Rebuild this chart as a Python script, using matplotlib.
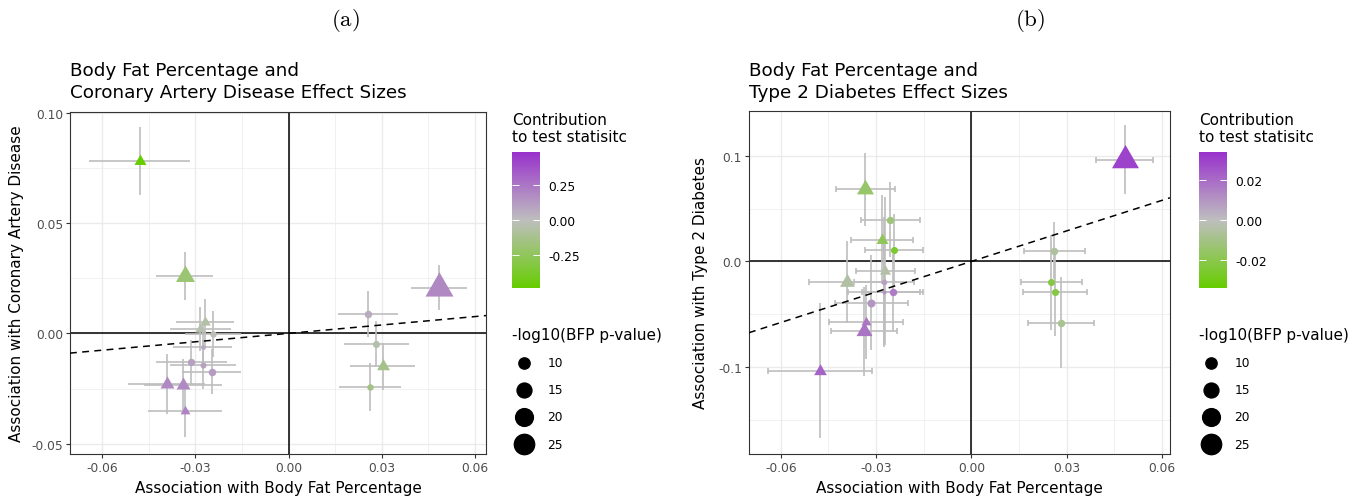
# Body fat percentage effect sizes vs CAD / T2D effect sizes, two panels

import numpy as np
import matplotlib
matplotlib.use('Agg')
import matplotlib.pyplot as plt
from matplotlib.colors import LinearSegmentedColormap, Normalize
from matplotlib.colorbar import ColorbarBase

plt.rcParams['font.family'] = ['DejaVu Sans']
plt.rcParams['mathtext.fontset'] = 'cm'

W, H = 1368, 502

# ---- panel (a): coronary artery disease ----
cad_x = [-0.0480, -0.0335, 0.0484, 0.0257, 0.0282, 0.0303, 0.0262, -0.0270, -0.0284,
         -0.0244, -0.0276, -0.0313, -0.0275, -0.0248, -0.0393, -0.0340, -0.0334]
cad_y = [0.0782, 0.0260, 0.0207, 0.0087, -0.0048, -0.0149, -0.0245, 0.0050, 0.0019,
         -0.0003, -0.0060, -0.0131, -0.0142, -0.0173, -0.0229, -0.0232, -0.0352]
cad_x_err = [0.0163, 0.0093, 0.0091, 0.0097, 0.0105, 0.0104, 0.0101, 0.0093, 0.0097,
             0.0090, 0.0095, 0.0114, 0.0107, 0.0094, 0.0125, 0.0125, 0.0120]
cad_y_err = [0.0156, 0.0109, 0.0102, 0.0105, 0.0106, 0.0107, 0.0109, 0.0105, 0.0100,
             0.0104, 0.0100, 0.0100, 0.0110, 0.0100, 0.0137, 0.0115, 0.0120]
cad_logp = [6.0, 11.8, 23.1, 4.9, 4.6, 6.7, 4.2, 5.2, 5.2, 4.2, 3.4, 4.8, 3.9, 4.9, 7.4, 7.4, 4.8]
cad_shape = ['^', '^', '^', 'o', 'o', '^', 'o', '^', '^', 'o', 'o', 'o', 'o', 'o', '^', '^', '^']
cad_contrib = [-0.479, -0.19, 0.18, 0.06, -0.05, -0.13, -0.14, -0.06, -0.04,
               -0.02, 0.06, 0.10, 0.10, 0.12, 0.18, 0.18, 0.20]
cad_slope = 0.127
cad_xticks = [-0.06, -0.03, 0.0, 0.03, 0.06]
cad_xlabels = ['-0.06', '-0.03', '0.00', '0.03', '0.06']
cad_yticks = [-0.05, 0.0, 0.05, 0.10]
cad_ylabels = ['-0.05', '0.00', '0.05', '0.10']
cad_cticks = [-0.25, 0.0, 0.25]
cad_clabels = ['-0.25', '0.00', '0.25']

# ---- panel (b): type 2 diabetes ----
t2d_x = [0.0483, -0.0334, -0.0255, -0.0282, -0.0244, -0.0271, -0.0391, -0.0275, -0.0275,
         -0.0248, -0.0315, -0.0331, -0.0339, -0.0476, 0.0261, 0.0252, 0.0262, 0.0281]
t2d_y = [0.0965, 0.0685, 0.0394, 0.0206, 0.0104, -0.0090, -0.0195, -0.0195, -0.0294,
         -0.0294, -0.0392, -0.0572, -0.0663, -0.1036, 0.0101, -0.0196, -0.0294, -0.0581]
t2d_x_err = [0.0090, 0.0093, 0.0094, 0.0097, 0.0092, 0.0092, 0.0119, 0.0095, 0.0113,
             0.0095, 0.0114, 0.0117, 0.0104, 0.0163, 0.0095, 0.0095, 0.0101, 0.0104]
t2d_y_err = [0.0325, 0.0345, 0.0355, 0.0420, 0.0350, 0.0700, 0.0387, 0.0620, 0.0500,
             0.0364, 0.0453, 0.0350, 0.0420, 0.0640, 0.0270, 0.0450, 0.0410, 0.0430]
t2d_logp = [21.5, 9.9, 4.8, 6.0, 4.6, 5.4, 8.2, 3.7, 3.0, 4.9, 5.3, 4.8, 9.0, 6.5, 4.9, 4.6, 4.6, 4.9]
t2d_shape = ['^', '^', 'o', '^', 'o', '^', '^', 'o', 'o', 'o', 'o', '^', '^', '^', 'o', 'o', 'o', 'o']
t2d_contrib = [0.030, -0.015, -0.013, -0.018, -0.025, -0.004, -0.005, 0.007, 0.010,
               0.016, 0.010, 0.017, 0.018, 0.022, -0.006, -0.022, -0.022, -0.008]
t2d_slope = 0.966
t2d_xticks = [-0.06, -0.03, 0.0, 0.03, 0.06]
t2d_xlabels = ['-0.06', '-0.03', '0.00', '0.03', '0.06']
t2d_yticks = [-0.1, 0.0, 0.1]
t2d_ylabels = ['-0.1', '0.0', '0.1']
t2d_cticks = [-0.02, 0.0, 0.02]
t2d_clabels = ['-0.02', '0.00', '0.02']

legend_sizes = [10, 15, 20, 25]

cmap = LinearSegmentedColormap.from_list('contrib', ['#66CD00', '#BEBEBE', '#9932CC'])
TRI = [(0, 1), (0.866, -0.5), (-0.866, -0.5)]


def diam_px(v):
    # point diameter in pixels for a -log10 p value (area scale)
    return np.sqrt(20.7 * (np.asarray(v, dtype=float) - 2.2))


def draw_panel(ax, x, y, xe, ye, logp, shape, contrib, clim, slope, xlim, ylim,
               xticks, xlabels, yticks, ylabels, minor_x, minor_y, caps):
    norm = Normalize(-clim, clim)
    ax.set_xlim(xlim)
    ax.set_ylim(ylim)
    ax.set_xticks(xticks, labels=xlabels)
    ax.set_yticks(yticks, labels=ylabels)
    ax.set_xticks(minor_x, minor=True)
    ax.set_yticks(minor_y, minor=True)
    ax.grid(which='major', color='#EBEBEB', lw=1.0)
    ax.grid(which='minor', color='#EBEBEB', lw=0.5)
    ax.set_axisbelow(True)
    ax.tick_params(which='major', length=3, width=0.8, color='#333333',
                   labelsize=8.8, labelcolor='#4D4D4D', pad=2)
    ax.tick_params(which='minor', length=0)
    for sp in ax.spines.values():
        sp.set_color('#333333')
        sp.set_linewidth(0.8)

    ax.axhline(0, color='black', lw=1.1, zorder=2)
    ax.axvline(0, color='black', lw=1.1, zorder=2)

    ax.errorbar(x, y, xerr=xe, fmt='none', ecolor='#BEBEBE', elinewidth=1.2,
                capsize=caps, capthick=1.2, zorder=3)
    ax.errorbar(x, y, yerr=ye, fmt='none', ecolor='#BEBEBE', elinewidth=1.2,
                capsize=0, zorder=3)

    xs = np.array(xlim)
    ax.plot(xs, slope * xs, color='black', lw=1.1, ls=(0, (4.5, 3.5)), zorder=4)

    d = diam_px(logp) * 0.72
    for i in range(len(x)):
        col = cmap(norm(contrib[i]))
        if shape[i] == '^':
            ax.scatter(x[i], y[i], s=(1.555 * d[i]) ** 2, marker=TRI, color=col,
                       linewidths=0, zorder=5)
        else:
            ax.scatter(x[i], y[i], s=d[i] ** 2, marker='o', color=col,
                       linewidths=0, zorder=5)


def fig_rect(l, t, r, b):
    return [l / W, 1 - b / H, (r - l) / W, (b - t) / H]


fig = plt.figure(figsize=(W / 100, H / 100), dpi=100)

ax1 = fig.add_axes(fig_rect(70, 113, 486, 455))
draw_panel(ax1, cad_x, cad_y, cad_x_err, cad_y_err, cad_logp, cad_shape, cad_contrib,
           0.479, cad_slope, (-0.0704, 0.0636), (-0.0547, 0.1004),
           cad_xticks, cad_xlabels, cad_yticks, cad_ylabels,
           [-0.045, -0.015, 0.015, 0.045], [-0.025, 0.025, 0.075], caps=0)

ax2 = fig.add_axes(fig_rect(749, 112, 1170, 455))
draw_panel(ax2, t2d_x, t2d_y, t2d_x_err, t2d_y_err, t2d_logp, t2d_shape, t2d_contrib,
           0.034, t2d_slope, (-0.0700, 0.0625), (-0.1827, 0.1427),
           t2d_xticks, t2d_xlabels, t2d_yticks, t2d_ylabels,
           [-0.045, -0.015, 0.015, 0.045], [-0.15, -0.05, 0.05], caps=2.5)

# overlay in pixel coordinates for titles, labels and legends
ov = fig.add_axes([0, 0, 1, 1], facecolor='none')
ov.set_xlim(0, W)
ov.set_ylim(H, 0)
ov.axis('off')

ov.text(345, 20, r'$\mathrm{(a)}$', fontsize=16.5, ha='center', va='center')
ov.text(1030, 20, r'$\mathrm{(b)}$', fontsize=16.5, ha='center', va='center')

panels = [
    (70, 486, 113, 455, 'Coronary Artery Disease Effect Sizes', 'Association with Coronary Artery Disease', 17,
     512, cad_cticks, cad_clabels, 0.479),
    (749, 1170, 112, 455, 'Type 2 Diabetes Effect Sizes', 'Association with Type 2 Diabetes', 701,
     1199, t2d_cticks, t2d_clabels, 0.034),
]

for left, right, top, bottom, title2, ylab, ylab_x, leg_x, cticks, clabels, clim in panels:
    ov.text(left, 76, 'Body Fat Percentage and', fontsize=13.2, ha='left', va='baseline')
    ov.text(left, 98, title2, fontsize=13.2, ha='left', va='baseline')
    ov.text((left + right) / 2, 493, 'Association with Body Fat Percentage',
            fontsize=11, ha='center', va='baseline')
    ov.text(ylab_x, (top + bottom) / 2, ylab, fontsize=11, rotation=90,
            ha='center', va='center')

    # colour legend
    ov.text(leg_x, 125, 'Contribution', fontsize=11, ha='left', va='baseline')
    ov.text(leg_x, 142, 'to test statisitc', fontsize=11, ha='left', va='baseline')
    cax = fig.add_axes(fig_rect(leg_x, 153, leg_x + 27.5, 289))
    cb = ColorbarBase(cax, cmap=cmap, norm=Normalize(-clim, clim), orientation='vertical')
    cb.outline.set_visible(False)
    cb.set_ticks(cticks, labels=clabels)
    cax.tick_params(axis='y', direction='in', color='white', length=5, width=0.7,
                    left=True, right=True, labelleft=False, labelright=True,
                    labelsize=8.8, labelcolor='black', pad=6.5)

    # size legend
    ov.text(leg_x, 340, '-log10(BFP p-value)', fontsize=11, ha='left', va='baseline')
    for k, v in enumerate(legend_sizes):
        cy = 363.5 + k * 27.2
        ov.plot(leg_x + 12, cy, 'o', color='black', markersize=diam_px(v) * 0.72,
                markeredgewidth=0)
        ov.text(leg_x + 35.5, cy, str(v), fontsize=8.8, ha='left', va='center')

fig.savefig('out.png', dpi=100)
